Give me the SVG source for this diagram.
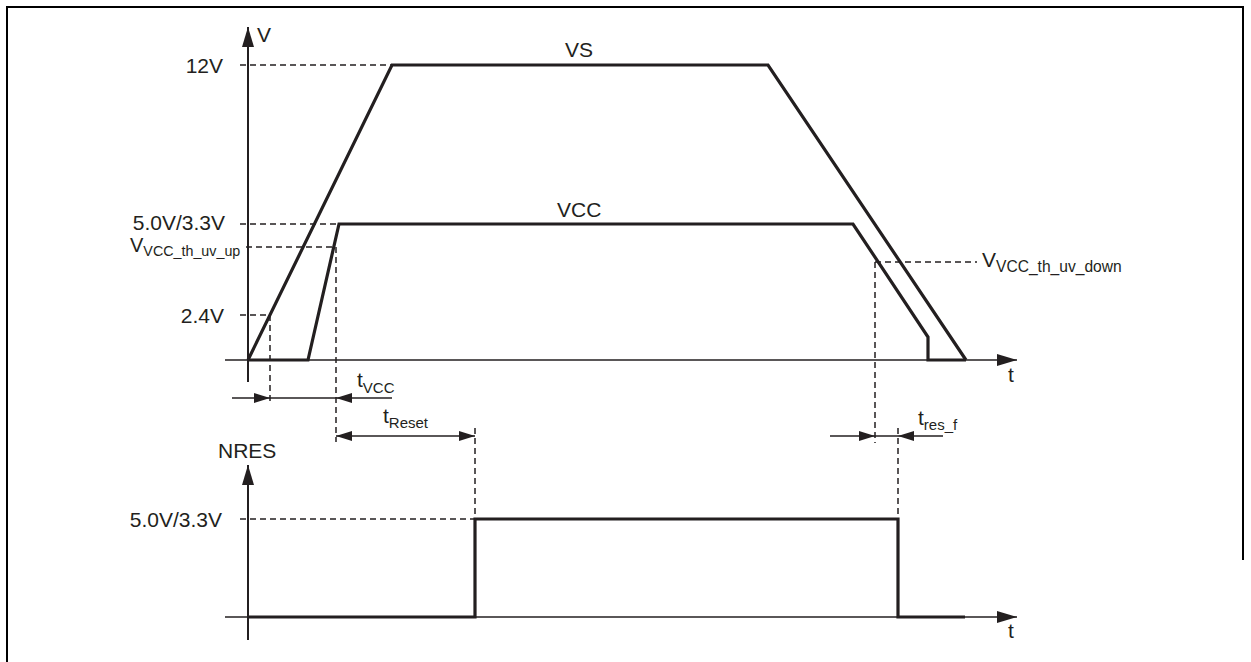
<svg xmlns="http://www.w3.org/2000/svg" width="1251" height="662" viewBox="0 0 1251 662">
<style>
.t{font-family:"Liberation Sans",Arial,sans-serif;font-size:21px;fill:#231f20}
.s{font-size:15px}
.ax{stroke:#231f20;stroke-width:2;fill:none}
.ta{stroke:#231f20;stroke-width:1.5;fill:none}
.sig{stroke:#231f20;stroke-width:3.2;fill:none;stroke-linejoin:miter}
.d{stroke:#231f20;stroke-width:1.5;fill:none;stroke-dasharray:6 4}
</style>
<defs>
<marker id="ah" viewBox="0 0 20 12" refX="20" refY="6" markerWidth="20" markerHeight="12" markerUnits="userSpaceOnUse" orient="auto">
<path d="M0,0 L20,6 L0,12 Z" fill="#231f20"/>
</marker>
<marker id="ahs" viewBox="0 0 16 10" refX="16" refY="5" markerWidth="16" markerHeight="10" markerUnits="userSpaceOnUse" orient="auto">
<path d="M0,0 L16,5 L0,10 Z" fill="#231f20"/>
</marker>
</defs>
<rect width="1251" height="662" fill="#fff"/>
<path d="M7,662 V7 H1243 V560" stroke="#000" stroke-width="2" fill="none"/>

<g id="axes">
<line class="ax" x1="248" y1="382" x2="248" y2="27" marker-end="url(#ah)"/>
<line class="ta" x1="225" y1="360" x2="1017" y2="360" marker-end="url(#ah)"/>
<line class="ax" x1="248" y1="640" x2="248" y2="465" marker-end="url(#ah)"/>
<line class="ta" x1="225" y1="617" x2="1017" y2="617" marker-end="url(#ah)"/>
</g>

<g id="guides">
<line class="d" x1="240" y1="65" x2="392" y2="65"/>
<line class="d" x1="240" y1="224" x2="339" y2="224"/>
<line class="d" x1="246" y1="247" x2="333" y2="247"/>
<line class="d" x1="240" y1="315" x2="270" y2="315"/>
<line class="d" x1="270" y1="315" x2="270" y2="405"/>
<line class="d" x1="336" y1="247" x2="336" y2="442"/>
<line class="d" x1="475" y1="428" x2="475" y2="519"/>
<line class="d" x1="240" y1="519" x2="475" y2="519"/>
<line class="d" x1="875" y1="262" x2="977" y2="262"/>
<line class="d" x1="875" y1="262" x2="875" y2="443"/>
<line class="d" x1="898" y1="428" x2="898" y2="519"/>
</g>

<g id="VS">
<polyline class="sig" points="248,360 392,65 768,65 966,360"/>
<text class="t" x="565" y="57">VS</text>
</g>
<g id="VCC">
<polyline class="sig" points="248,360 308,360 339,224 853,224 928,337 928,360 966,360"/>
<text class="t" x="557" y="217">VCC</text>
</g>
<g id="NRES">
<polyline class="sig" points="248,617 475,617 475,519 898,519 898,617 965,617"/>
<text class="t" x="218" y="458">NRES</text>
</g>

<g id="connectors">
<line class="ta" x1="232" y1="398" x2="270" y2="398" marker-end="url(#ahs)"/>
<line class="ta" x1="270" y1="398" x2="336" y2="398"/>
<line class="ta" x1="392" y1="398" x2="336" y2="398" marker-end="url(#ahs)"/>
<line class="ta" x1="405" y1="436" x2="336" y2="436" marker-end="url(#ahs)"/>
<line class="ta" x1="405" y1="436" x2="475" y2="436" marker-end="url(#ahs)"/>
<line class="ta" x1="830" y1="436" x2="875" y2="436" marker-end="url(#ahs)"/>
<line class="ta" x1="875" y1="436" x2="898" y2="436"/>
<line class="ta" x1="943" y1="436" x2="898" y2="436" marker-end="url(#ahs)"/>
</g>

<g id="labels">
<text class="t" x="257" y="42">V</text>
<text class="t" x="223" y="73" text-anchor="end">12V</text>
<text class="t" x="225" y="230" text-anchor="end">5.0V/3.3V</text>
<text class="t" x="130" y="252" style="font-size:20px">V<tspan style="font-size:14.3px" dy="4">VCC_th_uv_up</tspan></text>
<text class="t" x="224" y="323" text-anchor="end">2.4V</text>
<text class="t" x="982" y="267">V<tspan style="font-size:15.6px" dy="5">VCC_th_uv_down</tspan></text>
<text class="t" x="1008" y="382">t</text>
<text class="t" x="357" y="387">t<tspan class="s" dy="6">VCC</tspan></text>
<text class="t" x="383" y="423">t<tspan class="s" dy="5">Reset</tspan></text>
<text class="t" x="918" y="425">t<tspan class="s" dy="5">res_f</tspan></text>
<text class="t" x="222" y="527" text-anchor="end">5.0V/3.3V</text>
<text class="t" x="1008" y="638">t</text>
</g>
</svg>
